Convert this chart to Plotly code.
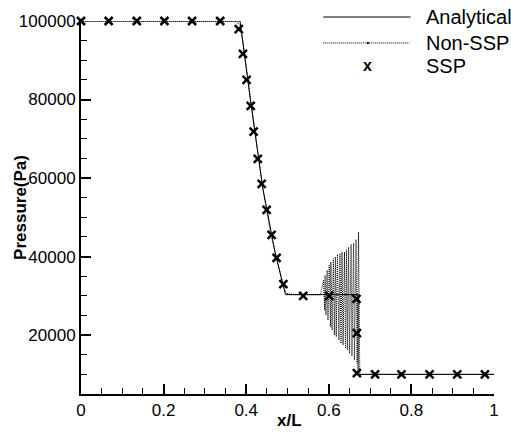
import plotly.graph_objects as go

# ---------------- data ----------------
analytical_x = [0.0, 0.385, 0.41, 0.44, 0.47, 0.495, 0.671, 0.671, 1.0]
analytical_p = [100000, 100000, 80000, 57500, 41000, 30300, 30300, 10000, 10000]

nonssp_x = [0.0, 0.33, 0.375, 0.385, 0.392, 0.40, 0.42, 0.44, 0.46, 0.48, 0.49, 0.497, 0.52, 0.55, 0.58,
            0.587, 0.590, 0.591, 0.593, 0.596, 0.598, 0.601, 0.604, 0.605, 0.608, 0.611, 0.6135,
            0.616, 0.618, 0.621, 0.6245, 0.627, 0.6295, 0.632, 0.6345, 0.638, 0.6405, 0.643, 0.645,
            0.648, 0.650, 0.654, 0.656, 0.660, 0.662, 0.666, 0.6685, 0.672, 0.674,
            0.675, 0.68, 0.75, 0.85, 1.0]
nonssp_p = [100000, 100000, 99900, 99000, 95000, 88500, 73000, 57500, 45500, 36500, 32500, 30600, 30300,
            30300, 30300,
            33970, 26350, 35240, 25080, 36510, 23810, 37780, 22100, 38620, 21270, 39480, 20000,
            39890, 19570, 40570, 18730, 40750, 17890, 41160, 17460, 41160, 16620, 41760, 16190,
            42430, 15340, 43110, 14670, 43440, 13650, 44300, 12810, 46240, 11950,
            10000, 10000, 10000, 10000, 10000]

ssp_x = [0.0, 0.067, 0.135, 0.202, 0.269, 0.337, 0.382, 0.392, 0.401, 0.411, 0.418, 0.428, 0.4375,
         0.4495, 0.4615, 0.4736, 0.490, 0.538, 0.601, 0.667, 0.668, 0.668, 0.712, 0.776, 0.844,
         0.911, 0.978]
ssp_p = [100000, 100000, 100000, 100000, 100000, 100000, 97960, 91600, 85000, 78400, 71800, 64900,
         58500, 51900, 45500, 39700, 33000, 30000, 30000, 29200, 20500, 10300, 10000, 10000, 10000,
         10000, 10000]

x_ticks = [0, 0.2, 0.4, 0.6, 0.8, 1.0]
x_ticktext = ["0", "0.2", "0.4", "0.6", "0.8", "1"]
y_ticks = [20000, 40000, 60000, 80000, 100000]
y_ticktext = ["20000", "40000", "60000", "80000", "100000"]

legend_names = ["Analytical", "Non-SSP", "SSP"]

FONT = "Liberation Sans, Arial, sans-serif"

fig = go.Figure()
fig.add_trace(go.Scatter(x=analytical_x, y=analytical_p, mode="lines",
                         line=dict(color="black", width=1), cliponaxis=False,
                         showlegend=False, name=legend_names[0]))
fig.add_trace(go.Scatter(x=nonssp_x, y=nonssp_p, mode="lines",
                         line=dict(color="black", width=1, dash="1px,1px"), cliponaxis=False,
                         showlegend=False, name=legend_names[1]))
fig.add_trace(go.Scatter(x=ssp_x, y=ssp_p, mode="markers",
                         marker=dict(symbol="x-thin", size=8, line=dict(color="black", width=2.5)),
                         cliponaxis=False, showlegend=False, name=legend_names[2]))

# ---------------- manual legend (paper coords) ----------------
L, W, T, B = 81, 416, 20, 394
H = B - T
def px(x):
    return (x - L) / W
def py(y):
    return (B - y) / H

rows_y = [16, 42, 65]
fig.add_shape(type="line", xref="paper", yref="paper", x0=px(325), x1=px(413),
              y0=py(rows_y[0]), y1=py(rows_y[0]), line=dict(color="black", width=1))
fig.add_shape(type="line", xref="paper", yref="paper", x0=px(325), x1=px(412),
              y0=py(rows_y[1]), y1=py(rows_y[1]), line=dict(color="black", width=1, dash="1px,1px"))
fig.add_shape(type="rect", xref="paper", yref="paper", x0=px(369), x1=px(371),
              y0=py(rows_y[1] + 1), y1=py(rows_y[1] - 1), line=dict(width=0), fillcolor="black")
fig.add_annotation(xref="paper", yref="paper", x=px(370), y=py(rows_y[2]), text="<b>x</b>",
                   showarrow=False, xanchor="center", yanchor="middle",
                   font=dict(family=FONT, size=16, color="black"))
for name, yy in zip(legend_names, rows_y):
    fig.add_annotation(xref="paper", yref="paper", x=px(426), y=py(yy), text=name,
                       xanchor="left", yanchor="middle", showarrow=False,
                       font=dict(family=FONT, size=20, color="black"))

# axis titles
fig.add_annotation(xref="paper", yref="paper", x=px(291), y=py(421), text="<b>x/L</b>",
                   showarrow=False, xanchor="center", yanchor="middle",
                   font=dict(family=FONT, size=17, color="black"))
fig.add_annotation(xref="paper", yref="paper", x=px(20), y=py(207), text="<b>Pressure(Pa)</b>",
                   showarrow=False, textangle=-90, xanchor="center", yanchor="middle",
                   font=dict(family=FONT, size=17, color="black"))

fig.update_layout(
    width=511, height=432,
    margin=dict(l=L, r=511 - L - W, t=T, b=432 - B),
    paper_bgcolor="white", plot_bgcolor="white",
    font=dict(family=FONT, color="black"),
    xaxis=dict(range=[0, 1], tickvals=x_ticks, ticktext=x_ticktext,
               showline=True, linecolor="black", linewidth=2, showgrid=False, zeroline=False,
               ticks="inside", ticklen=10, tickwidth=2, tickcolor="black",
               tickfont=dict(family=FONT, size=17, color="black"),
               minor=dict(ticks="inside", ticklen=6, tickwidth=1, tickcolor="black", dtick=0.05,
                          showgrid=False)),
    yaxis=dict(range=[5000, 100000], tickvals=y_ticks, ticktext=y_ticktext,
               showline=True, linecolor="black", linewidth=2, showgrid=False, zeroline=False,
               ticks="inside", ticklen=10, tickwidth=2, tickcolor="black",
               tickfont=dict(family=FONT, size=17, color="black"),
               minor=dict(ticks="inside", ticklen=6, tickwidth=1, tickcolor="black", dtick=5000,
                          showgrid=False)),
)

fig.write_html("out.html")
